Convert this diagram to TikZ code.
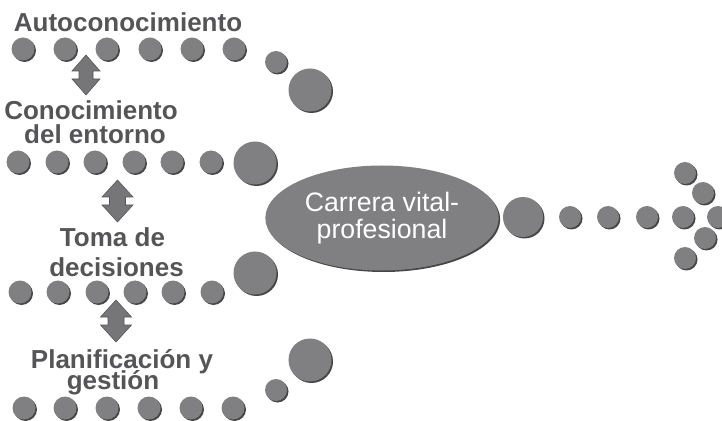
\documentclass[tikz,border=0pt]{standalone}
\usepackage{fontspec}
\setmainfont{Liberation Sans}
\usetikzlibrary{shapes.geometric,shadows}
\definecolor{dotgray}{RGB}{128,128,130}
\definecolor{txtgray}{RGB}{85,85,87}
\definecolor{edgegray}{RGB}{85,85,87}

\begin{document}
\begin{tikzpicture}[x=0.3mm, y=-0.3mm,
  dot/.style={circle, fill=dotgray, inner sep=0pt, minimum size=6.9mm, drop shadow={shadow xshift=0.45mm, shadow yshift=-0.45mm, fill=black!85, opacity=0.85}},
  middot/.style={dot, minimum size=6.6mm},
  bigdot/.style={dot, minimum size=12.9mm},
  lbl/.style={anchor=base, inner sep=0pt, text=txtgray, font=\fontsize{22.2}{24}\selectfont\bfseries},
  dblarrow/.style={fill=dotgray!92!black, draw=edgegray, line width=0.5pt, line join=miter}]
\useasboundingbox (0,0) rectangle (722,421);
\node[lbl] (L1) at (128,32) {Autoconocimiento};
\node[dot] (R1N1) at (23,49) {};
\node[dot] (R1N2) at (65,49) {};
\node[dot] (R1N3) at (107,49) {};
\node[dot] (R1N4) at (150,49) {};
\node[dot] (R1N5) at (192,49) {};
\node[dot] (R1N6) at (234,49) {};
\node[middot] (R1N7) at (276,62) {};
\node[bigdot] (R1N8) at (310,90) {};
\coordinate (A1) at (86,75);
\node[lbl] (L2a) at (91,120) {Conocimiento};
\node[lbl] (L2b) at (95,144) {del entorno};
\node[dot] (R2N1) at (18,162) {};
\node[dot] (R2N2) at (57,162) {};
\node[dot] (R2N3) at (95,162) {};
\node[dot] (R2N4) at (134,162) {};
\node[dot] (R2N5) at (172,162) {};
\node[dot] (R2N6) at (211,162) {};
\node[bigdot] (R2N7) at (255,163) {};
\coordinate (A2) at (117.5,201);
\node[lbl] (L3a) at (112.5,247) {Toma de};
\node[lbl] (L3b) at (116.5,277) {decisiones};
\node[bigdot] (R3N7) at (255,273) {};
\node[dot] (R3N1) at (20,292) {};
\node[dot] (R3N2) at (58,292) {};
\node[dot] (R3N3) at (97,292) {};
\node[dot] (R3N4) at (135,292) {};
\node[dot] (R3N5) at (173,292) {};
\node[dot] (R3N6) at (212,292) {};
\coordinate (A3) at (116,321);
\node[lbl] (L4a) at (122,368) {Planificación y};
\node[lbl] (L4b) at (113,389) {gestión};
\node[bigdot] (R4N8) at (310,360) {};
\node[middot] (R4N7) at (276,390) {};
\node[dot] (R4N1) at (24,408) {};
\node[dot] (R4N2) at (65,408) {};
\node[dot] (R4N3) at (107,408) {};
\node[dot] (R4N4) at (149,408) {};
\node[dot] (R4N5) at (191,408) {};
\node[dot] (R4N6) at (233,408) {};
\node[ellipse, fill=dotgray, minimum width=70mm, minimum height=31.5mm, inner sep=0pt, align=center, text=white, font=\fontsize{22.8}{23}\selectfont, drop shadow={shadow xshift=0.45mm, shadow yshift=-0.45mm, fill=black!85, opacity=0.85}] (C) at (382,218) {Carrera vital-\\profesional};
\node[dot, minimum size=12mm] (P1) at (523,217) {};
\node[middot] (P2) at (570,217) {};
\node[middot] (P3) at (608,217) {};
\node[middot] (P4) at (647,217) {};
\node[middot] (H1) at (685,173) {};
\node[middot] (H2) at (703,193) {};
\node[middot] (H3) at (683,217) {};
\node[middot] (H4) at (718,217) {};
\node[middot] (H5) at (705,238) {};
\node[middot] (H6) at (685,258) {};
\draw[dblarrow] (A1) ++(0,-20) -- ++(14,16) -- ++(-7,0) -- ++(0,8) -- ++(7,0) -- ++(-14,16) -- ++(-14,-16) -- ++(7,0) -- ++(0,-8) -- ++(-7,0) -- cycle;
\draw[dblarrow] (A2) ++(0,-21) -- ++(15.5,17) -- ++(-7.5,0) -- ++(0,8) -- ++(7.5,0) -- ++(-15.5,17) -- ++(-15.5,-17) -- ++(7.5,0) -- ++(0,-8) -- ++(-7.5,0) -- cycle;
\draw[dblarrow] (A3) ++(0,-21) -- ++(15.5,17) -- ++(-7.5,0) -- ++(0,8) -- ++(7.5,0) -- ++(-15.5,17) -- ++(-15.5,-17) -- ++(7.5,0) -- ++(0,-8) -- ++(-7.5,0) -- cycle;
\end{tikzpicture}
\end{document}
